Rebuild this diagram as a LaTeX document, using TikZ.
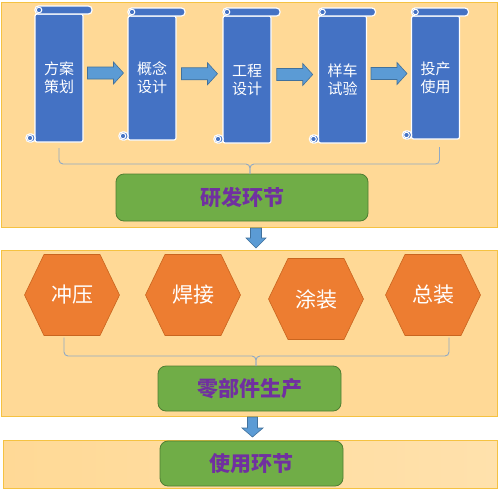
\documentclass[tikz,border=0pt]{standalone}
\usepackage{fontspec}
\newfontfamily\cjk{Noto Sans CJK SC}
\usetikzlibrary{calc}
\pgfdeclarelayer{bg}\pgfdeclarelayer{mid}\pgfsetlayers{bg,mid,main}
\definecolor{panelfill}{HTML}{FFD996}
\definecolor{panelfade}{HTML}{FFE1AC}
\definecolor{panelline}{HTML}{F5C242}
\definecolor{scrollblue}{HTML}{4472C4}
\definecolor{arrowblue}{HTML}{5B9BD5}
\definecolor{arrowline}{HTML}{41719C}
\definecolor{boxgreen}{HTML}{70AD47}
\definecolor{boxline}{HTML}{507E32}
\definecolor{hexorange}{HTML}{ED7D31}
\definecolor{hexline}{HTML}{C9651F}
\definecolor{txtpurple}{HTML}{7030A0}
\definecolor{bracecol}{HTML}{8FA9C6}
\begin{document}
\begin{tikzpicture}[x=1pt,y=-1pt,
 panel/.style={draw=panelline, line width=1pt, fill=panelfill, inner sep=0pt, outer sep=0pt},
 scrollbody/.style={draw=white, line width=1.2pt, fill=scrollblue, minimum width=48pt, text=white,
   font=\cjk\fontsize{15}{18}\selectfont, align=center, inner sep=0pt, outer sep=0pt, rounded corners=2pt},
 roll/.style={draw=white, line width=1.2pt, fill=scrollblue, rounded corners=3.5pt},
 curl/.style={draw=white, line width=1pt, fill=scrollblue},
 barrow/.style={draw=arrowline, line width=0.6pt, fill=arrowblue},
 greenbox/.style={draw=boxline, line width=0.8pt, fill=boxgreen, rounded corners=8pt, text=txtpurple,
   font=\cjk\bfseries\fontsize{21}{24}\selectfont, inner sep=0pt, outer sep=0pt},
 hexnode/.style={minimum width=95pt, minimum height=81pt, inner sep=0pt, outer sep=0pt, text=white,
   font=\cjk\fontsize{21}{24}\selectfont},
 hexshape/.style={draw=hexline, line width=0.6pt, fill=hexorange},
 brace/.style={draw=bracecol, line width=0.9pt, rounded corners=4pt}
]
\useasboundingbox (0,0) rectangle (500,490);

% panels
\begin{pgfonlayer}{bg}
\fill[white] (0,0) rectangle (500,490);
\node[panel, minimum width=496pt, minimum height=225pt] (p1) at (249,114.5) {};
\node[panel, minimum width=496pt, minimum height=166pt] (p2) at (249,333) {};
\node[panel, minimum width=494pt, minimum height=48pt, left color=panelfill, right color=panelfade] (p3) at (250,464) {};
\end{pgfonlayer}

% scrolls
\node[scrollbody, minimum height=128pt] (s1) at (59,78) {方案\\策划};
\node[scrollbody, minimum height=124pt] (s2) at (152,78) {概念\\设计};
\node[scrollbody, minimum height=127pt] (s3) at (247,79.5) {工程\\设计};
\node[scrollbody, minimum height=127pt] (s4) at (342.5,79.5) {样车\\试验};
\node[scrollbody, minimum height=123pt] (s5) at (435.5,77.5) {投产\\使用};
\foreach \n in {1,...,5}{
  \draw[roll] (s\n.north west) ++(0,-8) rectangle ([xshift=9pt]s\n.north east);
  \draw[curl] (s\n.north west) ++(4,-4) circle (2.8);
  \draw[roll] (s\n.south west) ++(-9,0) rectangle ([yshift=8pt]s\n.south west);
  \draw[curl] (s\n.south west) ++(-5,-4) circle (2.8);
}
% arrows between scrolls
\foreach \a/\b in {1/2,2/3,3/4,4/5}{
  \coordinate (m\a) at ($(s\a.east)!0.5!(s\b.west)$);
  \draw[barrow, shift={(m\a)}] (-18,-11) -- (8,-11) -- (8,-16) -- (18,-5) -- (8,6) -- (8,1) -- (-18,1) -- cycle;
}

% green boxes
\node[greenbox, minimum width=252pt, minimum height=47pt] (g1) at (242,197.5) {研发环节};
\node[greenbox, minimum width=183pt, minimum height=45pt] (g2) at (249.5,388.5) {零部件生产};
\node[greenbox, minimum width=183pt, minimum height=45pt] (g3) at (251.5,463.5) {使用环节};

% brace 1
\coordinate (c1) at (250,164);
\draw[brace] ([yshift=-6pt]s1.south) |- (c1) -- ([xshift=8pt]g1.north);
\draw[brace] ([xshift=4pt,yshift=-8pt]s5.south) |- (c1) -- ([xshift=8pt]g1.north);

% hexagons
\node[hexnode] (h1) at (72,295) {冲压};
\node[hexnode] (h2) at (193,295) {焊接};
\node[hexnode] (h3) at (316,299) {涂装};
\node[hexnode] (h4) at (433,295) {总装};
\begin{pgfonlayer}{mid}
\foreach \h in {1,...,4}{
  \draw[hexshape] (h\h.west) -- ([xshift=-28pt]h\h.north) -- ([xshift=28pt]h\h.north) -- (h\h.east)
     -- ([xshift=28pt]h\h.south) -- ([xshift=-28pt]h\h.south) -- cycle;
}
\end{pgfonlayer}

% brace 2
\coordinate (c2) at (256,356);
\draw[brace] ([xshift=-8pt,yshift=-2pt]h1.south) |- (c2) -- ([xshift=6.5pt]g2.north);
\draw[brace] ([xshift=16pt,yshift=-2pt]h4.south) |- (c2) -- ([xshift=6.5pt]g2.north);

% down arrows
\coordinate (d1) at ([xshift=7pt]p1.south);
\draw[barrow, shift={(d1)}] (-5.5,1) -- (5.5,1) -- (5.5,11) -- (10,11) -- (0,21) -- (-10,11) -- (-5.5,11) -- cycle;
\coordinate (d2) at ([xshift=3.5pt]p2.south);
\draw[barrow, shift={(d2)}] (-5,1) -- (5,1) -- (5,12) -- (10.5,12) -- (0,21) -- (-10.5,12) -- (-5,12) -- cycle;
\end{tikzpicture}
\end{document}
